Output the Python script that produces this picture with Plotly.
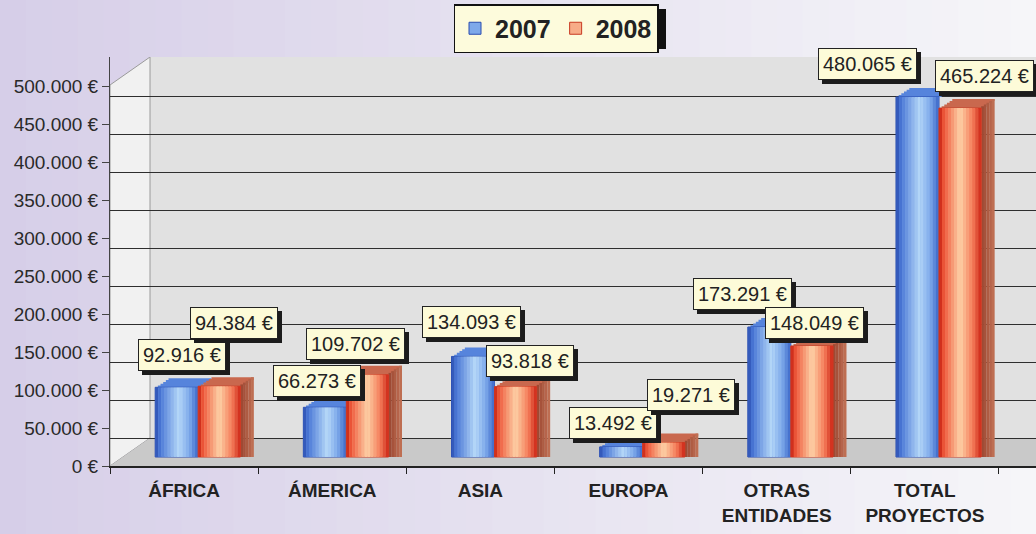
import plotly.graph_objects as go

# ---------------- data ----------------
categorias = ["ÁFRICA", "ÁMERICA", "ASIA", "EUROPA", "OTRAS<br>ENTIDADES", "TOTAL<br>PROYECTOS"]
valores_2007 = [92916, 66273, 134093, 13492, 173291, 480065]
valores_2008 = [94384, 109702, 93818, 19271, 148049, 465224]
series = ["2007", "2008"]
ticks_y = [0, 50000, 100000, 150000, 200000, 250000, 300000, 350000, 400000, 450000, 500000]

# ---------------- styles ----------------
FONT = "Arial, Liberation Sans, sans-serif"
W, H = 1036, 534
L, T, B = 110, 57, 68
plot_h = H - T - B            # 409
BAR_SCALE = 0.00075           # px per unit for the bars
GRID_SCALE = 0.00076          # px per unit for axis / back wall
bar_zero_px = 457 - T
y_bar_range = [-(plot_h - bar_zero_px) / BAR_SCALE, bar_zero_px / BAR_SCALE]
back_zero = 438 - T
y_grid_range = [-(plot_h - back_zero) / GRID_SCALE, back_zero / GRID_SCALE]
y_tick_range = [0, plot_h / GRID_SCALE]
x_range = [-0.5, 5.75]
CAP_H = 9 / BAR_SCALE          # 3-D cap depth (style)
CAP_DX = 0.09                  # 3-D cap horizontal shift (style)
NCAP = 5


def py(p_abs):
    """pixel row (absolute) -> value on the bar axis (for decoration shapes)"""
    return (bar_zero_px - (p_abs - T)) / BAR_SCALE


def euro(v):
    return f"{v:,}".replace(",", ".") + " €"


blue_stops = [(0, "#2a4db0"), (0.12, "#4a78d6"), (0.55, "#b6d8f8"), (0.8, "#7ca8ea"), (1, "#3a66c8")]
red_stops = [(0, "#c41e10"), (0.12, "#ef5a3c"), (0.5, "#fdd2a8"), (0.8, "#f47a58"), (1, "#cc2414")]
side_stops = [(0, "#9a4530"), (1, "#c27256")]


def hex2rgb(h):
    h = h.lstrip("#")
    return [int(h[i:i + 2], 16) for i in (0, 2, 4)]


def interp(stops, t):
    for (t0, c0), (t1, c1) in zip(stops[:-1], stops[1:]):
        if t0 <= t <= t1:
            f = (t - t0) / (t1 - t0) if t1 > t0 else 0
            a, b = hex2rgb(c0), hex2rgb(c1)
            return "rgb(%d,%d,%d)" % tuple(round(a[k] + (b[k] - a[k]) * f) for k in range(3))
    return stops[-1][1]


fig = go.Figure()

N = 14
bar_specs = [
    ("2007", valores_2007, -0.195, 0.29, blue_stops, "#7ea9ea", "#2a4db0", "#5684dc"),
    ("2008", valores_2008, 0.095, 0.285, red_stops, "#f7ac88", "#c83a22", "#c9684e"),
]
for name, vals, start, width, stops, legend_col, legend_line, cap_col in bar_specs:
    # 3-D top cap (stair-stepped parallelogram behind the front face)
    for k in range(NCAP):
        fig.add_trace(go.Bar(
            x=categorias, y=[CAP_H / NCAP] * len(vals), base=[v + CAP_H * k / NCAP for v in vals],
            offset=start + CAP_DX * (k + 1) / NCAP, width=width,
            marker=dict(color=cap_col, line=dict(width=0)),
            hoverinfo="skip", showlegend=False, yaxis="y"))
    if name == "2008":
        NS = 5
        for j in range(NS):
            fig.add_trace(go.Bar(
                x=categorias, y=[v + CAP_H * (j + 1) / NS for v in vals],
                offset=start + width + j * CAP_DX / NS, width=CAP_DX / NS * 1.05,
                marker=dict(color=interp(side_stops, (j + 0.5) / NS), line=dict(width=0)),
                hoverinfo="skip", showlegend=False, yaxis="y"))
    fig.add_trace(go.Bar(
        x=categorias, y=vals, name=name, offset=start, width=width,
        marker=dict(color=legend_col, line=dict(color=legend_line, width=1)),
        hoverinfo="skip", showlegend=True, yaxis="y"))
    for j in range(N):
        fig.add_trace(go.Bar(
            x=categorias, y=vals, offset=start + j * width / N, width=width / N * 1.05,
            marker=dict(color=interp(stops, (j + 0.5) / N), line=dict(width=0)),
            hoverinfo="skip", showlegend=False, yaxis="y"))

# overlay axes carriers (invisible)
fig.add_trace(go.Scatter(x=categorias, y=valores_2007, yaxis="y2", mode="none",
                         showlegend=False, hoverinfo="skip"))
fig.add_trace(go.Scatter(x=categorias, y=valores_2007, yaxis="y3", mode="none",
                         showlegend=False, hoverinfo="skip"))

# ---------------- labels ----------------
off_2007 = [(-2, 32), (-15, 26), (-9, 34), (-16, 24), (-34, 33), (-57, 33)]
off_2008 = [(50, 63), (23, 31), (50, 26), (62, 48), (38, 23), (60, 32)]

annotations = []
for vals, offs in ((valores_2007, off_2007), (valores_2008, off_2008)):
    for c, v, (dx, dy) in zip(categorias, vals, offs):
        annotations.append(dict(
            x=c, y=v, xref="x", yref="y", text=euro(v), showarrow=False,
            xshift=dx + 4, yshift=dy - 4, bgcolor="#1c1c1c", bordercolor="#1c1c1c",
            borderwidth=1, borderpad=4, font=dict(family=FONT, size=20, color="#1c1c1c")))
        annotations.append(dict(
            x=c, y=v, xref="x", yref="y", text=euro(v), showarrow=False,
            xshift=dx, yshift=dy, bgcolor="#fdfbd8", bordercolor="#222222",
            borderwidth=1, borderpad=4, font=dict(family=FONT, size=20, color="#222222")))

# ---------------- decorative shapes ----------------
shapes = []
NB = 40
for k in range(NB):
    x0 = -L / (W - L) + k * (W / (W - L)) / NB
    x1 = x0 + (W / (W - L)) / NB * 1.05
    shapes.append(dict(type="rect", xref="paper", yref="paper", x0=x0, x1=x1,
                       y0=-B / plot_h, y1=(plot_h + T) / plot_h, layer="below",
                       line=dict(width=0),
                       fillcolor=interp([(0, "#d6cee8"), (0.5, "#e6e2f0"), (1, "#f6f6f9")], (k + 0.5) / NB)))
px_per_cat = (W - L) / (x_range[1] - x_range[0])
back_x0 = -0.5 + 40 / px_per_cat
# back wall
shapes.append(dict(type="rect", xref="x", yref="y", x0=back_x0, x1=x_range[1],
                   y0=py(438), y1=py(T), layer="below",
                   line=dict(width=0), fillcolor="#e1e1e1"))
# side wall
shapes.append(dict(type="path", xref="x", yref="y",
                   path=f"M -0.5,{py(466)} L {back_x0},{py(438)} L {back_x0},{py(T)} L -0.5,{py(85)} Z",
                   layer="below", line=dict(color="#9a9a9a", width=1), fillcolor="#f1f1f1"))
# floor
shapes.append(dict(type="path", xref="x", yref="y",
                   path=f"M -0.5,{py(466)} L {x_range[1]},{py(466)} L {x_range[1]},{py(438)} L {back_x0},{py(438)} Z",
                   layer="below", line=dict(width=0), fillcolor="#c9c9c9"))
# legend shadow
shapes.append(dict(type="rect", xref="paper", yref="paper",
                   x0=(459 - L) / (W - L), x1=(666 - L) / (W - L),
                   y0=(plot_h + T - 49) / plot_h, y1=(plot_h + T - 9) / plot_h,
                   layer="below", line=dict(width=0), fillcolor="#111111"))

fig.update_layout(
    width=W, height=H,
    margin=dict(l=L, r=0, t=T, b=B, pad=0, autoexpand=False),
    paper_bgcolor="#ebe8f2", plot_bgcolor="rgba(0,0,0,0)",
    separators=",.",
    barmode="overlay",
    font=dict(family=FONT, color="#222222"),
    showlegend=True,
    legend=dict(orientation="h", xref="container", yref="container",
                x=556 / W, xanchor="center", y=1 - 4 / H, yanchor="top",
                bgcolor="#fdfbdc", bordercolor="#111111", borderwidth=1.5,
                font=dict(family=FONT, size=25, color="#222222", weight="bold"),
                itemwidth=30, tracegroupgap=0),
    xaxis=dict(type="category", categoryorder="array", categoryarray=categorias,
               range=x_range, showline=True, linecolor="#222222", linewidth=2,
               ticks="outside", tickson="boundaries", ticklen=6, tickcolor="#222222",
               ticklabelstandoff=6,
               tickfont=dict(family=FONT, size=19, color="#222222", weight="bold"),
               showgrid=False, zeroline=False, fixedrange=True, anchor="y"),
    yaxis=dict(range=y_bar_range, showgrid=False, zeroline=False, showticklabels=False,
               ticks="", showline=False, fixedrange=True),
    yaxis2=dict(range=y_grid_range, overlaying="y", showgrid=True, gridcolor="#2e2e2e",
                gridwidth=1, tickvals=ticks_y, showticklabels=False, ticks="",
                zeroline=False, showline=False, fixedrange=True),
    yaxis3=dict(range=y_tick_range, overlaying="y", side="left", anchor="x",
                tickmode="array", tickvals=ticks_y, ticktext=[euro(v) for v in ticks_y],
                showgrid=False, zeroline=False, showline=True, linecolor="#444444",
                linewidth=1, ticks="outside", ticklen=7, tickcolor="#444444",
                tickfont=dict(family=FONT, size=19, color="#2a2a2a"), fixedrange=True),
    annotations=annotations,
    shapes=shapes,
)

fig.write_html("out.html", config={"displayModeBar": False},
               post_script="document.body.style.margin='0';document.body.style.overflow='hidden';")
